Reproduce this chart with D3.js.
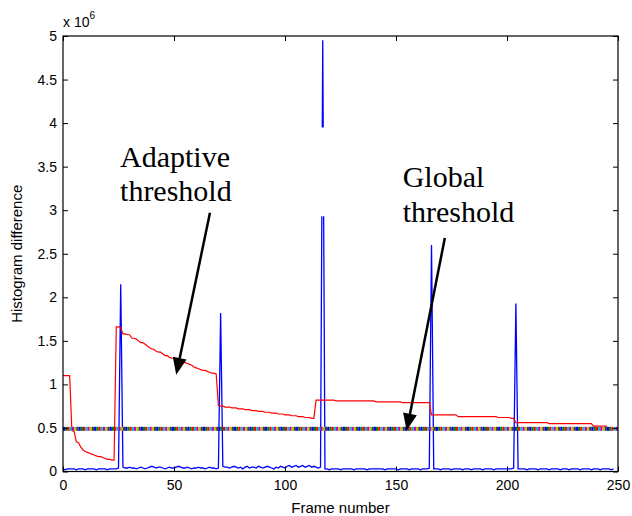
<!DOCTYPE html>
<html>
<head>
<meta charset="utf-8">
<script src="https://cdn.jsdelivr.net/npm/d3@7"></script>
<style>
  html, body { margin: 0; padding: 0; background: #fff; }
  svg { display: block; }
</style>
</head>
<body>
<svg id="chart" width="632" height="516"></svg>
<script>
// ---- data (values in units of 10^6) ----
const xTicks = [0, 50, 100, 150, 200, 250];
const yTicks = [0, 0.5, 1, 1.5, 2, 2.5, 3, 3.5, 4, 4.5, 5];

// histogram difference per frame (frame = index)
const histDiff = [
  0.03,0.02,0.03,0.03,0.03,0.03,0.02,0.03,0.03,0.03,0.02,0.03,0.03,0.03,0.03,0.02,0.03,0.03,0.03,0.03,0.02,0.03,0.03,0.03,0.03,0.04,
  2.15,
  0.05,0.04,0.04,0.05,0.04,0.04,0.03,0.04,0.05,0.04,0.03,0.04,0.05,0.06,0.05,0.04,0.05,0.05,0.04,0.03,0.04,0.05,0.04,0.04,0.05,0.06,0.05,0.04,0.04,0.05,0.04,0.03,0.04,0.04,0.05,0.04,0.04,0.03,0.04,0.05,0.04,0.04,0.03,0.04,
  1.82,
  0.06,0.05,0.05,0.04,0.05,0.06,0.05,0.04,0.05,0.03,0.05,0.06,0.04,0.05,0.05,0.04,0.06,0.05,0.04,0.05,0.06,0.05,0.04,0.03,0.05,0.04,0.06,0.05,0.04,0.06,0.07,0.05,0.06,0.07,0.05,0.06,0.07,0.05,0.06,0.07,0.05,0.06,0.05,0.04,0.05,
  4.95,
  0.03,0.03,0.02,0.03,0.03,0.03,0.03,0.02,0.03,0.03,0.03,0.03,0.03,0.02,0.03,0.03,0.03,0.03,0.03,0.02,0.03,0.03,0.03,0.03,0.03,0.03,0.03,0.02,0.03,0.03,0.03,0.03,0.03,0.02,0.03,0.03,0.03,0.03,0.02,0.03,0.03,0.03,0.03,0.02,0.03,0.03,0.03,0.04,
  2.60,
  0.03,0.03,0.03,0.02,0.03,0.03,0.03,0.03,0.02,0.03,0.03,0.03,0.03,0.02,0.03,0.03,0.03,0.02,0.03,0.03,0.03,0.03,0.02,0.03,0.03,0.03,0.03,0.02,0.03,0.03,0.03,0.03,0.03,0.03,0.03,0.03,0.04,
  1.93,
  0.03,0.03,0.03,0.03,0.02,0.03,0.03,0.03,0.03,0.02,0.03,0.03,0.03,0.03,0.02,0.03,0.03,0.03,0.03,0.02,0.03,0.03,0.03,0.02,0.03,0.03,0.03,0.03,0.02,0.03,0.03,0.03,0.03,0.02,0.03,0.03,0.03,0.02,0.03,0.03,0.03,0.03,0.02,0.03
];

// adaptive threshold per frame (frame = index)
const adaptive = [
  1.10,1.10,1.10,1.10,
  0.47,0.46,0.34,0.33,0.28,0.25,0.23,0.22,0.21,0.20,0.19,0.18,0.17,0.17,0.16,0.15,0.14,0.14,0.13,0.13,
  1.66,1.66,1.65,1.58,1.58,1.57,1.57,1.53,1.53,1.52,1.50,1.48,1.48,1.46,1.44,1.42,1.41,1.40,1.38,1.37,1.37,1.35,1.33,1.33,1.31,1.30,1.30,1.29,
  1.28,1.27,1.26,1.25,1.24,1.23,1.22,1.20,1.19,1.18,1.17,1.16,1.16,1.15,1.14,1.13,1.13,1.12,
  0.76,0.75,0.75,0.74,0.74,0.74,0.73,0.73,0.73,0.72,0.72,0.72,0.71,0.71,0.71,0.70,0.70,0.70,0.69,0.69,0.69,0.68,0.68,0.68,0.67,0.67,0.67,0.66,0.66,0.66,0.65,0.65,0.65,0.64,0.64,0.64,0.63,0.63,0.63,0.62,0.62,0.62,0.61,0.61,
  0.82,0.82,0.82,0.82,0.82,0.82,0.82,0.82,0.82,
  0.81,0.81,0.81,0.81,0.81,0.81,0.81,0.81,0.81,0.81,0.81,0.81,0.81,0.81,0.81,0.81,0.81,0.81,
  0.80,0.80,0.80,0.80,0.80,0.80,0.80,0.80,0.80,0.80,0.80,0.80,
  0.79,0.79,0.79,0.79,0.79,0.79,0.79,0.79,0.79,0.79,0.79,0.79,0.79,
  0.65,0.65,0.65,0.65,0.65,0.65,0.65,0.65,0.65,0.65,0.65,0.65,
  0.63,0.63,0.63,0.63,0.63,0.63,0.63,0.63,0.63,0.63,0.63,0.63,0.63,0.63,0.63,0.63,0.63,0.63,
  0.62,0.62,0.62,0.62,0.62,0.62,
  0.61,0.61,
  0.56,0.56,0.56,0.56,0.56,0.56,0.56,0.56,0.56,0.56,0.56,0.56,0.56,0.56,0.56,
  0.55,0.55,0.55,0.55,0.55,0.55,0.55,0.55,0.55,0.55,0.55,0.55,0.55,0.55,0.55,0.55,0.55,0.55,0.55,0.55,
  0.52,0.52,0.52,0.52,0.52,0.52,0.52
];

// global threshold (constant), drawn with cycling marker colours over frames 0..249
const globalThreshold = 0.49;
const globalFrames = d3.range(0, 250);
const cycleColors = ["#0000ff", "#008000", "#ff0000", "#00bfbf", "#bf00bf", "#bfbf00", "#404040"];

// part of the tallest spike hidden in the original figure (frame 117)
const hiddenSpike = { frame: 117, from: 2.93, to: 3.95 };

// annotations (data coordinates)
const annotations = [
  { lines: ["Adaptive", "threshold"], tx: 25.7, ty: [3.50, 3.10], from: [66.2, 2.97], to: [51.0, 1.11] },
  { lines: ["Global", "threshold"], tx: 153.0, ty: [3.27, 2.87], from: [172.0, 2.68], to: [154.8, 0.47] }
];

// ---- layout ----
const svg = d3.select("#chart");
const L = 63, R = 618, T = 36, B = 471.5;
const x = d3.scaleLinear().domain([0, 250]).range([L, R]);
const y = d3.scaleLinear().domain([0, 5]).range([B, T]);
const font = "'Liberation Sans', Arial, Helvetica, sans-serif";

// ---- series ----
const line = d3.line().x((d, i) => x(i)).y(d => y(d));

svg.append("path").datum(histDiff)
  .attr("d", line).attr("fill", "none")
  .attr("stroke", "#0000ff").attr("stroke-width", 1.3);

// mask hidden part of tall spike
svg.append("rect")
  .attr("x", x(hiddenSpike.frame - 1.5)).attr("width", x(hiddenSpike.frame + 1.5) - x(hiddenSpike.frame - 1.5))
  .attr("y", y(hiddenSpike.to)).attr("height", y(hiddenSpike.from) - y(hiddenSpike.to))
  .attr("fill", "#fff");

svg.append("path").datum(adaptive)
  .attr("d", line).attr("fill", "none")
  .attr("stroke", "#ff0000").attr("stroke-width", 1.2);

svg.append("g").selectAll("rect").data(globalFrames).join("rect")
  .attr("x", d => x(d))
  .attr("width", d => x(d + 1) - x(d))
  .attr("y", y(globalThreshold) - 2)
  .attr("height", 4)
  .attr("fill", (d, i) => cycleColors[i % cycleColors.length]);

// ---- axes (box with inward ticks) ----
const axL = svg.append("g").attr("transform", `translate(${L},0)`)
  .call(d3.axisLeft(y).tickValues(yTicks).tickSizeInner(-5).tickSizeOuter(0).tickPadding(6).tickFormat(d3.format("~g")));
const axR = svg.append("g").attr("transform", `translate(${R},0)`)
  .call(d3.axisRight(y).tickValues(yTicks).tickSizeInner(-5).tickSizeOuter(0).tickFormat(""));
const axB = svg.append("g").attr("transform", `translate(0,${B})`)
  .call(d3.axisBottom(x).tickValues(xTicks).tickSizeInner(-5).tickSizeOuter(0).tickPadding(9).tickFormat(d3.format("d")));
const axT = svg.append("g").attr("transform", `translate(0,${T})`)
  .call(d3.axisTop(x).tickValues(xTicks).tickSizeInner(-5).tickSizeOuter(0).tickFormat(""));
[axL, axR, axB, axT].forEach(g => {
  g.select(".domain").remove();
  g.selectAll(".tick line").attr("stroke", "#000").attr("stroke-width", 1);
  g.selectAll("text").attr("fill", "#000").style("font-family", font).style("font-size", "14px");
});
axB.selectAll("text").attr("dy", "0.71em");

svg.append("rect").attr("x", L).attr("y", T).attr("width", R - L).attr("height", B - T)
  .attr("fill", "none").attr("stroke", "#000").attr("stroke-width", 1.2);

// exponent label
const ex = svg.append("text").attr("x", L).attr("y", 27)
  .style("font-family", font).style("font-size", "14px").attr("fill", "#000");
ex.append("tspan").text("x 10");
ex.append("tspan").attr("dy", -8).style("font-size", "10px").text("6");

// axis titles
svg.append("text").attr("x", (L + R) / 2).attr("y", 513)
  .attr("text-anchor", "middle").style("font-family", font).style("font-size", "15px")
  .text("Frame number");
svg.append("text").attr("transform", `translate(22,${(T + B) / 2}) rotate(-90)`)
  .attr("text-anchor", "middle").style("font-family", font).style("font-size", "15px")
  .text("Histogram difference");

// ---- annotations ----
annotations.forEach(a => {
  const t = svg.append("text").style("font-family", "'Liberation Serif', 'Times New Roman', serif")
    .style("font-size", "30px").attr("fill", "#000");
  a.lines.forEach((s, i) => t.append("tspan").attr("x", x(a.tx)).attr("y", y(a.ty[i])).text(s));

  const x0 = x(a.from[0]), y0 = y(a.from[1]), x1 = x(a.to[0]), y1 = y(a.to[1]);
  const dx = x1 - x0, dy = y1 - y0, len = Math.hypot(dx, dy);
  const ux = dx / len, uy = dy / len;
  const headLen = 17, headW = 7;
  const bx = x1 - ux * headLen, by = y1 - uy * headLen;
  svg.append("line").attr("x1", x0).attr("y1", y0).attr("x2", bx).attr("y2", by)
    .attr("stroke", "#000").attr("stroke-width", 2.5);
  svg.append("path")
    .attr("d", `M${x1},${y1}L${bx - uy * headW},${by + ux * headW}L${bx + uy * headW},${by - ux * headW}Z`)
    .attr("fill", "#000");
});
</script>
</body>
</html>
